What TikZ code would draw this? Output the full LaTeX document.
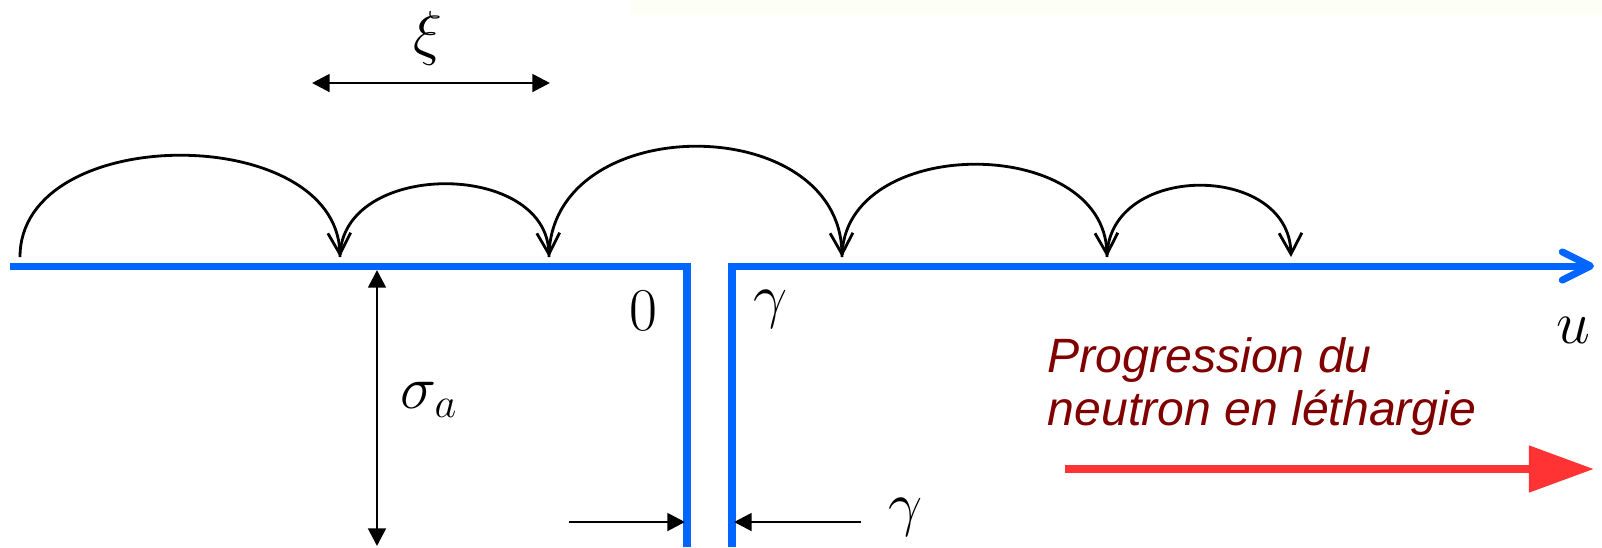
\documentclass[tikz,border=0pt]{standalone}
\usepackage{fontspec}
\newfontfamily\arialfont{Liberation Sans}
\usetikzlibrary{arrows.meta}
\definecolor{axisblue}{HTML}{0066FF}
\definecolor{progred}{HTML}{FF3333}
\definecolor{txtred}{HTML}{800000}
\definecolor{faint}{HTML}{FDFEF6}
\tikzset{
  lab/.style={inner sep=0pt, anchor=base, font=\fontsize{17}{20}\selectfont},
  axisline/.style={draw=axisblue, line width=2pt},
  hop/.style={draw=black, line width=0.8pt, -{Straight Barb[length=6pt,width=6.5pt]}},
  dimarrow/.style={draw=black, line width=0.8pt, {Triangle[length=5pt,width=5pt]}-{Triangle[length=5pt,width=5pt]}},
  gaparrow/.style={draw=black, line width=0.8pt, -{Triangle[length=5pt,width=5pt]}},
}
\begin{document}
\begin{tikzpicture}[x=0.01cm, y=-0.01cm]
\useasboundingbox (0,0) rectangle (1602,547);
\fill[faint] (630,0) rectangle (1602,15);

% xi label and arrow
\node[lab] (xi) at (428,53) {$\xi$};
\coordinate (xiL) at (312,83);
\coordinate (xiR) at (550,83);
\draw[dimarrow] (xiL) -- (xiR);

% axis
\coordinate (aL) at (10,266);
\coordinate (aC1) at (687,266);
\coordinate (aB1) at (687,547);
\coordinate (aB2) at (732,547);
\coordinate (aC2) at (732,266);
\coordinate (aR) at (1594,266);
\draw[axisline] (aL) -- (aC1) -- (aB1);
\draw[axisline, -{Straight Barb[length=8pt,width=8pt,round]}] (aB2) -- (aC2) -- (aR);

% hops
\coordinate (p0) at (20,257);
\coordinate (p1) at (340,257);
\coordinate (p2) at (549,257);
\coordinate (p3) at (842,257);
\coordinate (p4) at (1107,257);
\coordinate (p5) at (1291,257);
\draw[hop] (p0) .. controls (20,122) and (336,122) .. (p1);
\draw[hop] (p1) .. controls (341,160) and (546,160) .. (p2);
\draw[hop] (p2) .. controls (550,110) and (839,110) .. (p3);
\draw[hop] (p3) .. controls (843,134) and (1104,134) .. (p4);
\draw[hop] (p4) .. controls (1108,162) and (1289,162) .. (p5);

% sigma_a
\coordinate (sT) at (377,270);
\coordinate (sB) at (377,546);
\draw[dimarrow] (sT) -- (sB);
\node[lab, anchor=base west, font=\fontsize{18.5}{22}\selectfont] (sigma) at (400,408) {$\sigma_a$};

% labels near the gap
\node[lab] (zero) at (643,330) {$0$};
\node[lab] (gtop) at (771,316) {$\gamma$};
\node[lab] (u) at (1573,343) {$u$};

% gap arrows
\coordinate (gL0) at (569,522);
\coordinate (gL1) at (685,522);
\coordinate (gR0) at (861,522);
\coordinate (gR1) at (734,522);
\draw[gaparrow] (gL0) -- (gL1);
\draw[gaparrow] (gR0) -- (gR1);
\node[lab] (gbot) at (906,524) {$\gamma$};

% progression text and arrow
\node[inner sep=0pt, anchor=north west, align=left, text=txtred,
      font=\arialfont\itshape\fontsize{13.7}{15.1}\selectfont] (prog) at (1047,337)
      {Progression du\\neutron en léthargie};
\coordinate (rA) at (1065,469);
\coordinate (rB) at (1594,469);
\draw[draw=progred, line width=2.3pt, -{Triangle[length=18.5pt,width=12.8pt]}] (rA) -- (rB);
\end{tikzpicture}
\end{document}
